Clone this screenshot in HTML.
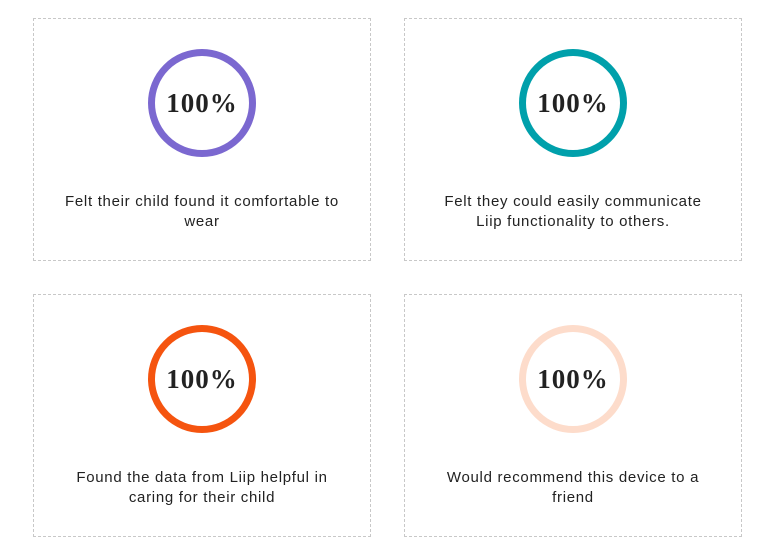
<!DOCTYPE html>
<html><head><style>
body{margin:0;width:761px;height:548px;background:#fff;position:relative;overflow:hidden;font-family:"Liberation Sans",sans-serif}
.b{position:absolute;width:338px;height:243px;border:1px dashed #c8c8c8;box-sizing:border-box}
.c{position:absolute;left:114px;top:30px;width:108px;height:108px;border-radius:50%;border:7px solid;box-sizing:border-box;display:flex;align-items:center;justify-content:center;font-family:"Liberation Serif",serif;font-size:27px;font-weight:bold;color:#222;letter-spacing:1px}
.t{position:absolute;left:10px;right:10px;top:173px;text-align:center;font-size:15px;line-height:20px;color:#222;letter-spacing:0.7px}
</style></head><body>
<div class="b" style="left:33px;top:18px"><div class="c" style="border-color:#7b68d0">100%</div><div class="t">Felt their child found it comfortable to<br>wear</div></div>
<div class="b" style="left:404px;top:18px"><div class="c" style="border-color:#00a0ab">100%</div><div class="t">Felt they could easily communicate<br>Liip functionality to others.</div></div>
<div class="b" style="left:33px;top:294px"><div class="c" style="border-color:#f5540f">100%</div><div class="t">Found the data from Liip helpful in<br>caring for their child</div></div>
<div class="b" style="left:404px;top:294px"><div class="c" style="border-color:#fddccb">100%</div><div class="t">Would recommend this device to a<br>friend</div></div>
</body></html>
